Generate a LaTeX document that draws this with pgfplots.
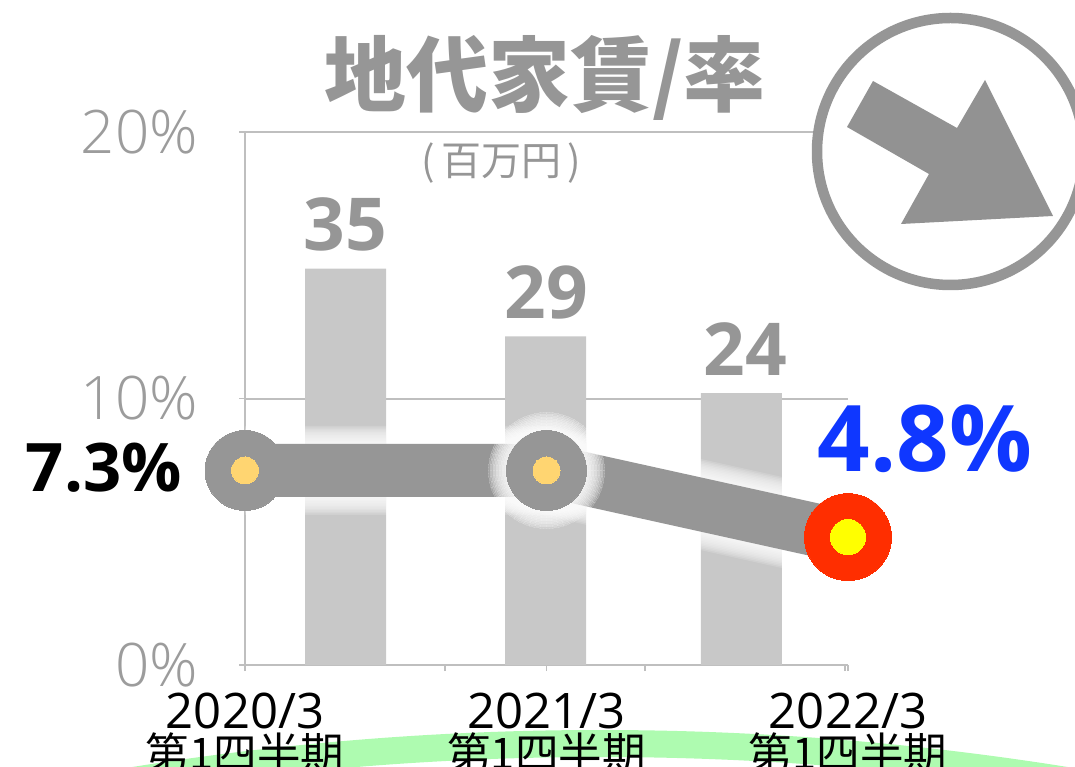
\documentclass[border=0pt]{standalone}
\usepackage{fontspec}
\usepackage{pgfplots}
\usepackage{pgfplotstable}
\pgfplotsset{compat=1.18}
\setmainfont{Open Sans}
\newfontfamily\cjk{Noto Sans CJK JP}
\newfontfamily\lite{Open Sans Light}
\newcommand{\fs}[1]{\fontsize{#1}{#1}\selectfont}
\definecolor{linegray}{HTML}{969696}
\definecolor{arrowgray}{HTML}{929292}
\definecolor{bargray}{HTML}{C8C8C8}
\definecolor{axisgray}{HTML}{BFBFBF}
\definecolor{ticktext}{HTML}{9C9C9C}
\definecolor{band}{HTML}{AEFBB0}
\definecolor{numblue}{HTML}{0F37FF}
\definecolor{redring}{HTML}{FF2E00}
\definecolor{midmark}{HTML}{FFD571}
\definecolor{endmark}{HTML}{FFFF00}

\pgfplotstableread{
x y
0.5 35
1.495 29
2.47 24
}\bars
\pgfplotstableread{
x y
0.5 35
1.5 29
2.49 24
}\barlabels
\pgfplotstableread{
x y
0 7.3
1 7.3
2 4.8
}\rate

\newcommand{\glow}[1]{\addplot[white,opacity=0.15,line width=#1pt,mark=*,mark indices={2},mark size=0.5*#1pt+13.5pt,mark options={draw=white,fill=white,line width=0pt}] table {\rate};}

\pgfplotsset{chart/.style={
  at={(245pt,101pt)},anchor=origin,
  scale only axis,width=603pt,height=533pt,
  clip=false}}

\begin{document}
\begin{tikzpicture}[x=1pt,y=1pt]
\path[use as bounding box] (0,0) rectangle (1075,766);
\clip (0,0) rectangle (1075,766);

% band along the bottom edge
\begin{scope}[x=1pt,y=-1pt,yshift=766pt]
\draw[band,line width=27pt] (600,3669) circle (2925.5);
\end{scope}

% percent axis, grid and labels
\begin{axis}[chart,
  xmin=0,xmax=2,ymin=0,ymax=20,
  axis x line=bottom,axis y line=left,
  axis line style={axisgray,line width=2pt,-},
  xtick={0,1,2},
  xticklabels={{2020/3\\{\cjk\fs{43.5}第1四半期}},{2021/3\\{\cjk\fs{43.5}第1四半期}},{2022/3\\{\cjk\fs{43.5}第1四半期}}},
  ytick={0,10,20},
  yticklabels={0\%,10\%,20\%},
  tick style={axisgray,line width=1.5pt},
  tick align=outside,major tick length=6pt,
  ymajorgrids,grid style={axisgray,line width=2pt},
  xticklabel style={align=center,text=black,font=\fontsize{49}{41}\selectfont,inner sep=0pt,yshift=-22pt},
  yticklabel style={text=ticktext,font=\fs{60}\lite,inner sep=0pt,xshift=-41pt},
]
\end{axis}

% bars on their own scale
\begin{axis}[chart,
  xmin=0,xmax=3,ymin=0,ymax=47.05,
  axis x line=bottom,axis y line=none,
  axis line style={draw=none},
  xtick={0.995,1.99,2.985},xticklabels={},
  tick style={axisgray,line width=1.5pt},
  tick align=outside,major tick length=6pt,
  ybar,bar width=81pt,bar shift=0pt,
  /pgf/number format/assume math mode=true,
]
\addplot[fill=bargray,draw=none] table {\bars};
\addplot[draw=none,fill=none,
  nodes near coords,
  every node near coord/.append style={text=linegray,font=\fs{73}\bfseries,inner sep=0pt,yshift=17pt},
] table {\barlabels};
\end{axis}

% rate line
\begin{axis}[chart,
  xmin=0,xmax=2,ymin=0,ymax=20,
  hide axis,
]
\glow{89}
\glow{86}
\glow{83}
\glow{80}
\glow{77}
\glow{74}
\glow{71}
\glow{68}
\glow{65}
\glow{62}
\glow{59}
\glow{56}
\addplot[linegray,line width=53pt,mark=*,mark size=40pt,mark options={draw=linegray,fill=linegray,line width=0pt}] table {\rate};
\addplot[only marks,mark=*,mark size=13.5pt,mark indices={1,2},mark options={draw=midmark,fill=midmark,line width=0pt}] table {\rate};
\addplot[only marks,mark=*,mark size=43.5pt,mark indices={3},mark options={draw=redring,fill=redring,line width=0pt}] table {\rate};
\addplot[only marks,mark=*,mark size=17.5pt,mark indices={3},mark options={draw=endmark,fill=endmark,line width=0pt}] table {\rate};
\end{axis}

% text and the arrow badge, in reference pixels
\begin{scope}[x=1pt,y=-1pt,yshift=766pt]
\node[text=linegray,inner sep=0pt,font=\cjk\fs{82}\bfseries] at (545,78) {地代家賃/率};
\node[text=linegray,inner sep=0pt,font=\cjk\fs{40}] at (501,163) {(\hspace{6pt}百万円\hspace{6pt})};
\node[inner sep=0pt,anchor=east,font=\fs{67}\bfseries] at (182,468) {7.3\%};
\node[text=numblue,inner sep=0pt,font=\fs{92}\bfseries] at (925,439) {4.8\%};
\draw[linegray,line width=10.5pt,fill=white] (950.5,151.5) circle (133.5);
\fill[arrowgray] (873,81)--(957,128)--(985,80)--(1053,216)--(901,224)--(929,174)--(847,127)--cycle;
\end{scope}
\end{tikzpicture}
\end{document}
